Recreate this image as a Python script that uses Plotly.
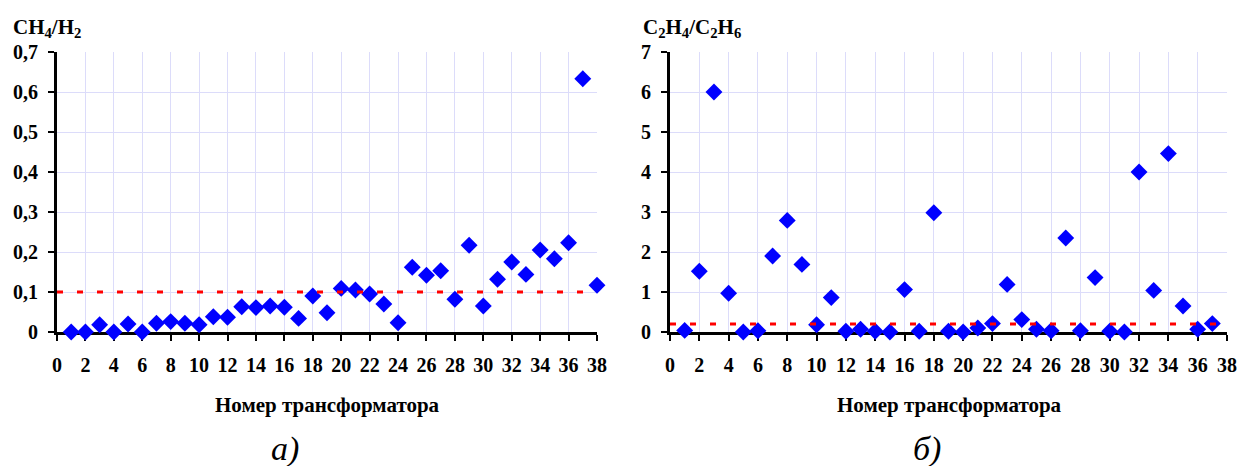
import plotly.graph_objects as go

# ---- data ----
transformers_a = list(range(1, 39))
ch4_h2 = [0.0, 0.0, 0.018, 0.0, 0.02, 0.0, 0.022, 0.026, 0.022, 0.018,
          0.038, 0.037, 0.063, 0.061, 0.065, 0.062, 0.034, 0.09, 0.048, 0.109,
          0.105, 0.095, 0.07, 0.023, 0.162, 0.142, 0.153, 0.082, 0.217, 0.065,
          0.132, 0.175, 0.144, 0.205, 0.183, 0.223, 0.633, 0.117]
threshold_a = 0.1

transformers_b = list(range(1, 38))
c2h4_c2h6 = [0.04, 1.52, 6.0, 0.97, 0.0, 0.03, 1.9, 2.79, 1.69, 0.18,
             0.86, 0.02, 0.07, 0.02, 0.0, 1.06, 0.02, 2.98, 0.02, 0.0,
             0.1, 0.21, 1.19, 0.31, 0.07, 0.03, 2.35, 0.03, 1.36, 0.02,
             0.0, 4.0, 1.04, 4.46, 0.65, 0.07, 0.21]
threshold_b = 0.2

x_ticks = list(range(0, 39, 2))
y_ticks_a = [0, 0.1, 0.2, 0.3, 0.4, 0.5, 0.6, 0.7]
y_text_a = ["0", "0,1", "0,2", "0,3", "0,4", "0,5", "0,6", "0,7"]
y_ticks_b = [0, 1, 2, 3, 4, 5, 6, 7]
y_text_b = [str(v) for v in y_ticks_b]

W, H = 1239, 466
FONT = "Liberation Serif"
GRID = "#DCDCFA"


def px(x):
    return x / W


def py(y):
    return 1 - y / H


fig = go.Figure()

fig.add_trace(go.Scatter(x=transformers_a, y=ch4_h2, mode="markers",
                         marker=dict(symbol="diamond", size=13, color="#0000FF"),
                         cliponaxis=False, xaxis="x", yaxis="y", showlegend=False))
fig.add_trace(go.Scatter(x=[0, 38], y=[threshold_a, threshold_a], mode="lines",
                         line=dict(color="#FF0000", width=3, dash="6px,14px"),
                         xaxis="x", yaxis="y", showlegend=False))

fig.add_trace(go.Scatter(x=transformers_b, y=c2h4_c2h6, mode="markers",
                         marker=dict(symbol="diamond", size=13, color="#0000FF"),
                         cliponaxis=False, xaxis="x2", yaxis="y2", showlegend=False))
fig.add_trace(go.Scatter(x=[0, 38], y=[threshold_b, threshold_b], mode="lines",
                         line=dict(color="#FF0000", width=3, dash="6px,14px"),
                         xaxis="x2", yaxis="y2", showlegend=False))

tickfont = dict(family=FONT, size=20, color="black", weight="bold")


def xax(domain, anchor):
    return dict(domain=domain, anchor=anchor, range=[0, 38], tickvals=x_ticks,
                showgrid=True, gridcolor=GRID, gridwidth=1, zeroline=False,
                showline=True, linecolor="black", linewidth=3,
                ticks="outside", ticklen=6, tickwidth=2, tickcolor="black",
                tickfont=tickfont, ticklabelstandoff=7, layer="below traces",
                automargin=False, fixedrange=True)


def yax(domain, anchor, rng, vals, text):
    return dict(domain=domain, anchor=anchor, range=rng, tickvals=vals, ticktext=text,
                showgrid=True, gridcolor=GRID, gridwidth=1, zeroline=False,
                showline=True, linecolor="black", linewidth=3,
                ticks="outside", ticklen=6, tickwidth=2, tickcolor="black",
                tickfont=tickfont, ticklabelstandoff=6, layer="below traces",
                automargin=False, fixedrange=True)


ydom = [py(332), py(52)]
fig.update_layout(
    template="none",
    width=W, height=H, margin=dict(l=0, r=0, t=0, b=0, autoexpand=False),
    paper_bgcolor="white", plot_bgcolor="white",
    xaxis=xax([px(57), px(597)], "y"),
    yaxis=yax(ydom, "x", [0, 0.7], y_ticks_a, y_text_a),
    xaxis2=xax([px(670), px(1227)], "y2"),
    yaxis2=yax(ydom, "x2", [0, 7], y_ticks_b, y_text_b),
)

ann_font = dict(family=FONT, size=21, color="black", weight="bold")
annotations = [
    dict(text="CH<sub>4</sub>/H<sub>2</sub>", x=px(11), y=py(28),
         xanchor="left", yanchor="middle", font=ann_font),
    dict(text="C<sub>2</sub>H<sub>4</sub>/C<sub>2</sub>H<sub>6</sub>", x=px(641), y=py(28),
         xanchor="left", yanchor="middle", font=ann_font),
    dict(text="Номер трансформатора", x=px(327), y=py(405),
         xanchor="center", yanchor="middle", font=ann_font),
    dict(text="Номер трансформатора", x=px(949), y=py(405),
         xanchor="center", yanchor="middle", font=ann_font),
    dict(text="а)", x=px(285), y=py(449), xanchor="center", yanchor="middle",
         font=dict(family=FONT, size=34, color="black", style="italic")),
    dict(text="б)", x=px(927), y=py(449), xanchor="center", yanchor="middle",
         font=dict(family=FONT, size=34, color="black", style="italic")),
]
for a in annotations:
    a.update(xref="paper", yref="paper", showarrow=False)
fig.update_layout(annotations=annotations)

# remove the default page margin so the figure fills the window exactly
fig.write_html("out.html",
               config={"displayModeBar": False},
               post_script="document.body.style.margin='0';"
                           "document.body.style.overflow='hidden';")
